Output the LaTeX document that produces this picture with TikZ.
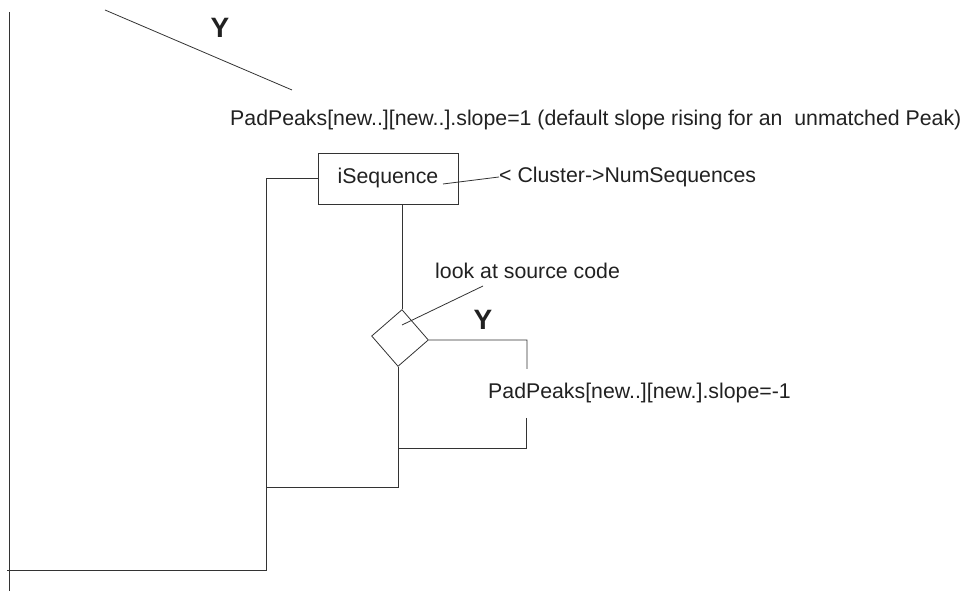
\documentclass[tikz,border=0pt]{standalone}
\usepackage{fontspec}
\setmainfont{Liberation Sans}
\usepackage{tikz}
\usetikzlibrary{shapes.geometric}
\usetikzlibrary{positioning}
\definecolor{mline}{rgb}{0.2, 0.2, 0.2}
\definecolor{mtext}{rgb}{0.13, 0.13, 0.13}
\tikzset{wire/.style = {draw=mline, line width=0.8pt},
         note/.style = {text=mtext, inner sep=0pt, font=\fontsize{21.3}{25}\selectfont},
         yes/.style = {text=mtext, inner sep=0pt, font=\fontsize{28}{32}\selectfont\bfseries},
         loopbox/.style = {wire, rectangle, minimum width=140pt, minimum height=51pt, inner sep=0pt},
         test/.style = {wire, diamond, minimum width=57pt, minimum height=57pt, inner sep=0pt, rotate=-4}}

\begin{document}
\begin{tikzpicture}[x=1pt, y=1pt]
    \useasboundingbox (0, 0) rectangle (967, 591);
    \node [loopbox, note] (seqbox) at (388, 412.5) {};
    \node [note] (seqlabel) at (388, 413) {iSequence};
    \node [note, anchor=west] (bound) at (499, 414) {< Cluster->NumSequences};
    \node [test] (check) at (400, 253) {};
    \node [note, anchor=west] (source) at (435, 320) {look at source code};
    \node [yes] (yestop) at (220, 563) {Y};
    \node [yes] (yesright) at (483, 271) {Y};
    \node [note, anchor=west] (risingslope) at (230, 471) {PadPeaks[new..][new..].slope=1 (default slope rising for an \ unmatched Peak)};
    \node [note, anchor=west] (fallingslope) at (488, 198) {PadPeaks[new..][new.].slope=-1};
    \coordinate (backtop) at (9, 579);
    \coordinate (backbottom) at (9, 0);
    \coordinate (diagstart) at (105, 581);
    \coordinate (diagend) at (292, 501);
    \coordinate (boundstart) at (443, 407);
    \coordinate (sourceend) at (483, 305);
    \coordinate (sourcepoint) at (402, 266);
    \coordinate (yescorner) at (527, 251);
    \coordinate (yesend) at (527, 222);
    \coordinate (returnstart) at (526, 173);
    \coordinate (returncorner) at (526, 143);
    \coordinate (returnjoin) at (398, 143);
    \coordinate (mergeleft) at (266, 104);
    \coordinate (exitcorner) at (266, 21);
    \coordinate (exitend) at (7, 21);
    \draw [wire] (backtop) -- (backbottom);
    \draw [wire] (diagstart) -- (diagend);
    \draw [wire] (boundstart) -- (bound.west);
    \draw [wire] (sourceend) -- (sourcepoint);
    \draw [wire] (seqbox.south -| check.north) -- (check.north);
    \draw [wire] (check.east) -- (yescorner) -- (yesend);
    \draw [wire] (returnstart) -- (returncorner) -- (returnjoin);
    \draw [wire] (check.south) |- (mergeleft);
    \draw [wire] (seqbox.west) -| (exitcorner) -- (exitend);
  \end{tikzpicture}
\end{document}
